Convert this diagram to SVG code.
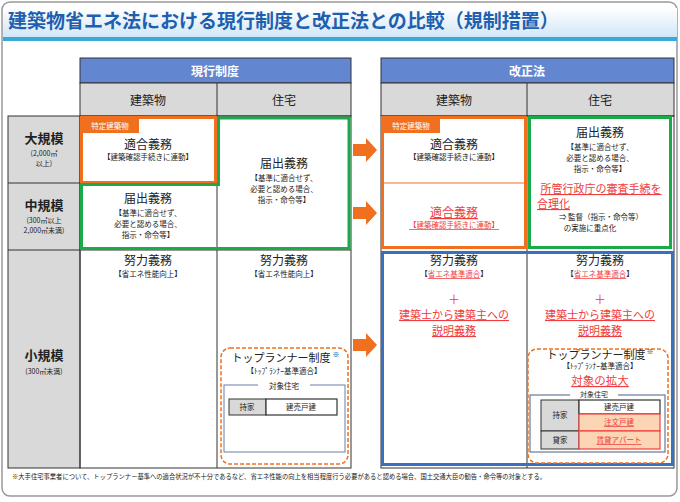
<svg xmlns="http://www.w3.org/2000/svg" width="680" height="502" viewBox="0 0 680 502">
<defs>
<linearGradient id="tg" x1="0" y1="0" x2="0" y2="1"><stop offset="0" stop-color="#ffffff"/><stop offset="1" stop-color="#cfe6f6"/></linearGradient>
</defs>
<style>
text{font-family:"Noto Sans CJK JP","Noto Sans",sans-serif;text-anchor:middle;fill:#222}
.h{font-size:12px;font-weight:bold;fill:#fff}
.s{font-size:12px}
.t{font-size:12px}
.b{font-size:7.5px}
.r{fill:#f03c3c;text-decoration:underline}
.l{font-size:13px;font-weight:bold}
.n{font-size:7px}
.k{font-family:"Noto Sans CJK JP",sans-serif;font-size:7px;fill:#222}
.grid{fill:none;stroke:#333;stroke-width:1}
.gray{fill:#d9d9d9;stroke:#333;stroke-width:1}
.blue{fill:#6287d0;stroke:#333;stroke-width:1}
</style>
<rect x="2" y="2" width="675" height="494" rx="8" fill="#fff" stroke="#999" stroke-width="1.5"/>
<rect x="3" y="8" width="674" height="30" fill="url(#tg)"/>
<rect x="3" y="37" width="674" height="4" fill="#3aa8d8"/>
<text x="8" y="28" style="text-anchor:start;font-size:19px;font-weight:bold;fill:#1f5fb0">建築物省エネ法における現行制度と改正法との比較（規制措置）</text>

<g id="left-table">
<rect class="blue" x="80" y="58" width="271" height="25"/>
<text class="h" x="215" y="76">現行制度</text>
<rect class="gray" x="80" y="83" width="271" height="33"/>
<line class="grid" x1="217" y1="83" x2="217" y2="116"/>
<text class="s" x="148" y="105">建築物</text>
<text class="s" x="284" y="105">住宅</text>
<rect class="gray" x="8" y="116" width="72" height="352"/>
<line class="grid" x1="8" y1="183" x2="80" y2="183"/>
<line class="grid" x1="8" y1="250" x2="351" y2="250"/>
<rect class="grid" x="80" y="116" width="271" height="352" fill="#fff"/>
<line class="grid" x1="217" y1="116" x2="217" y2="468"/>
<text class="l" x="44" y="143">大規模</text>
<text class="n" x="44" y="156">(2,000㎡</text>
<text class="n" x="44" y="166">以上)</text>
<text class="l" x="44" y="210">中規模</text>
<text class="n" x="44" y="223">(300㎡以上</text>
<text class="n" x="44" y="233">2,000㎡未満)</text>
<text class="l" x="44" y="360">小規模</text>
<text class="n" x="44" y="374">(300㎡未満)</text>
</g>

<g id="l-large-building">
<rect x="81.5" y="117.5" width="134" height="65" fill="#fff" stroke="#f07020" stroke-width="3"/>
<rect x="81" y="118" width="58" height="15" fill="#f07020"/>
<text x="110" y="129" style="font-size:7.5px;fill:#fff">特定建築物</text>
<text class="t" x="148" y="149">適合義務</text>
<text class="b" x="148" y="160">【建築確認手続きに連動】</text>
</g>
<g id="l-green">
<path d="M81.5,184.5 H218.5 V118 H349 V248.5 H81.5 Z" fill="none" stroke="#1aaa4a" stroke-width="3"/>
<text class="t" x="284" y="168">届出義務</text>
<text class="b" x="284" y="181">【基準に適合せず、</text>
<text class="b" x="284" y="192">必要と認める場合、</text>
<text class="b" x="284" y="203">指示・命令等】</text>
<text class="t" x="148" y="203">届出義務</text>
<text class="b" x="148" y="216">【基準に適合せず、</text>
<text class="b" x="148" y="227">必要と認める場合、</text>
<text class="b" x="148" y="238">指示・命令等】</text>
</g>
<g id="l-small">
<text class="t" x="148" y="265">努力義務</text>
<text class="b" x="148" y="277">【省エネ性能向上】</text>
<text class="t" x="284" y="265">努力義務</text>
<text class="b" x="284" y="277">【省エネ性能向上】</text>
<rect x="221" y="348" width="127" height="116" rx="9" fill="none" stroke="#f07020" stroke-width="1.5" stroke-dasharray="4,2"/>
<text x="281" y="362" style="font-size:11px">トップランナー制度</text>
<text class="k" x="336" y="357">&#x203B;&#xFE0E;</text>
<text class="b" x="284" y="374">【ﾄｯﾌﾟﾗﾝﾅｰ基準適合】</text>
<rect x="224" y="385" width="121" height="67" fill="none" stroke="#6a7fa8" stroke-width="1"/>
<rect x="258" y="381" width="52" height="8" fill="#fff"/>
<text class="b" x="284" y="389">対象住宅</text>
<rect x="229" y="399" width="37" height="16" class="gray" stroke-width="1.2"/>
<rect x="266" y="399" width="71" height="16" fill="#fff" stroke="#333" stroke-width="1.2"/>
<text class="b" x="247" y="410">持家</text>
<text class="b" x="301" y="410">建売戸建</text>
</g>

<g id="connectors" fill="#f07020">
<path d="M353,144 H366 V138 L377,150 L366,162 V156 H353 Z"/>
<path d="M353,207 H366 V201 L377,213 L366,225 V219 H353 Z"/>
<path d="M353,339 H366 V333 L377,345 L366,357 V351 H353 Z"/>
</g>

<g id="right-table">
<rect class="blue" x="381" y="58" width="293" height="25"/>
<text class="h" x="527" y="76">改正法</text>
<rect class="gray" x="381" y="83" width="293" height="33"/>
<line class="grid" x1="527" y1="83" x2="527" y2="116"/>
<text class="s" x="454" y="105">建築物</text>
<text class="s" x="600" y="105">住宅</text>
<rect class="grid" x="381" y="116" width="293" height="352" fill="#fff"/>
<line class="grid" x1="527" y1="116" x2="527" y2="468"/>
</g>
<g id="r-building">
<rect x="382.5" y="117.5" width="143" height="130" fill="#fff" stroke="#f07020" stroke-width="3"/>
<line x1="383" y1="183" x2="525" y2="183" stroke="#f07020" stroke-width="1"/>
<rect x="382" y="118" width="58" height="15" fill="#f07020"/>
<text x="411" y="129" style="font-size:7.5px;fill:#fff">特定建築物</text>
<text class="t" x="454" y="149">適合義務</text>
<text class="b" x="454" y="160">【建築確認手続きに連動】</text>
<text class="t r" x="454" y="217">適合義務</text>
<text class="b r" x="454" y="228">【建築確認手続きに連動】</text>
</g>
<g id="r-house">
<rect x="529.5" y="117.5" width="141" height="130" fill="#fff" stroke="#1aaa4a" stroke-width="3"/>
<text class="t" x="600" y="137">届出義務</text>
<text class="b" x="600" y="150">【基準に適合せず、</text>
<text class="b" x="600" y="161">必要と認める場合、</text>
<text class="b" x="600" y="172">指示・命令等】</text>
<text class="r" x="601" y="193" style="font-size:11px">所管行政庁の審査手続を</text>
<text class="r" x="537" y="208" style="font-size:11px;text-anchor:start">合理化</text>
<text class="b" x="601" y="220">⇒ 監督（指示・命令等）</text>
<text class="b" x="590" y="231">の実施に重点化</text>
</g>
<g id="r-small">
<rect x="382.5" y="252.5" width="290" height="212" fill="none" stroke="#3a6ec0" stroke-width="3"/>
<text class="t" x="454" y="265">努力義務</text>
<text class="b" x="454" y="277">【<tspan class="r">省エネ基準適合</tspan>】</text>
<text class="t" x="600" y="265">努力義務</text>
<text class="b" x="600" y="277">【<tspan class="r">省エネ基準適合</tspan>】</text>
<text x="454" y="304" style="font-size:12px;fill:#f03c3c">＋</text>
<text class="r" x="454" y="319" style="font-size:11px">建築士から建築主への</text>
<text class="r" x="454" y="335" style="font-size:11px">説明義務</text>
<text x="600" y="304" style="font-size:12px;fill:#f03c3c">＋</text>
<text class="r" x="600" y="319" style="font-size:11px">建築士から建築主への</text>
<text class="r" x="600" y="335" style="font-size:11px">説明義務</text>
<rect x="528" y="349" width="140" height="114" rx="9" fill="none" stroke="#f07020" stroke-width="1.5" stroke-dasharray="4,2"/>
<text x="596" y="359" style="font-size:11px">トップランナー制度</text>
<text class="k" x="650" y="354">&#x203B;&#xFE0E;</text>
<text class="b" x="600" y="369">【ﾄｯﾌﾟﾗﾝﾅｰ基準適合】</text>
<text x="600" y="385" style="font-size:11.5px;fill:#f03c3c;text-decoration:underline">対象の拡大</text>
<rect x="530" y="395" width="135" height="57" fill="none" stroke="#4a5f88" stroke-width="1"/>
<rect x="570" y="391" width="48" height="8" fill="#fff"/>
<text x="594" y="397" style="font-size:7px">対象住宅</text>
<rect x="541" y="400" width="38" height="31" class="gray" stroke-width="1.2"/>
<rect x="541" y="431" width="38" height="18" class="gray" stroke-width="1.2"/>
<rect x="579" y="400" width="81" height="14" fill="#fff" stroke="#333" stroke-width="1.2"/>
<rect x="579" y="414" width="81" height="17" fill="#fcd5b5" stroke="#f04040" stroke-width="1.2"/>
<rect x="579" y="431" width="81" height="18" fill="#fcd5b5" stroke="#f04040" stroke-width="1.2"/>
<text class="b" x="560" y="418">持家</text>
<text class="b" x="560" y="443">貸家</text>
<text class="b" x="619" y="410">建売戸建</text>
<text class="b r" x="619" y="425">注文戸建</text>
<text class="b r" x="619" y="443">賃貸アパート</text>
</g>
<text x="12" y="479" style="font-size:6.3px;text-anchor:start">※大手住宅事業者について、トップランナー基準への適合状況が不十分であるなど、省エネ性能の向上を相当程度行う必要があると認める場合、国土交通大臣の勧告・命令等の対象とする。</text>
</svg>
